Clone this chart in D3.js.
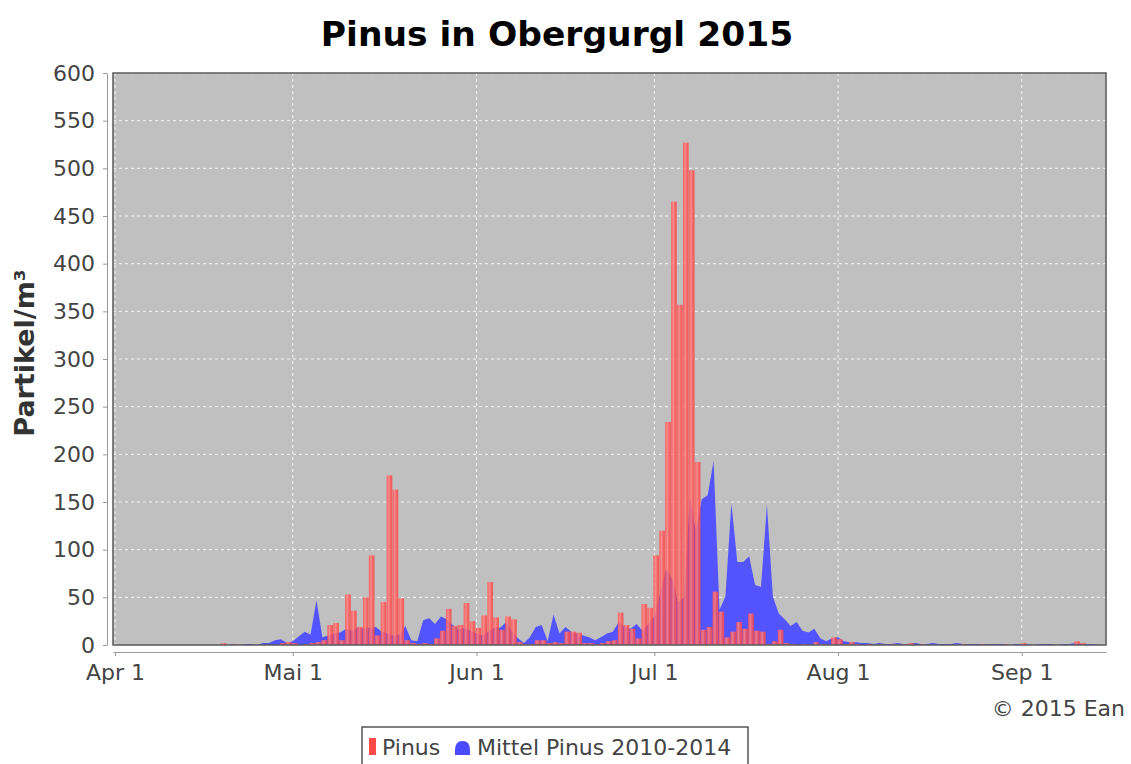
<!DOCTYPE html>
<html lang="de">
<head>
<meta charset="UTF-8">
<script src="https://cdn.jsdelivr.net/npm/d3@7"></script>
<style>
  body { margin: 0; background: #fff; }
  svg text { font-family: "DejaVu Sans", sans-serif; }
</style>
</head>
<body>
<script>
// Tageswerte ab 1. April 2015 (Index 0 = Apr 1)
var startDate = new Date(Date.UTC(2015, 3, 1));

// Pinus 2015, Partikel/m3
var pinus = [
  0, 0, 0, 0, 0, 0, 0, 0, 0, 0,
  0, 0, 0, 0, 0, 0, 0, 0, 2, 0,
  1, 0, 0, 0, 0, 0, 0, 0, 2, 3,
  2, 0, 1, 2, 3, 5, 21, 23, 5, 53,
  36, 19, 50, 94, 10, 45, 178, 163, 49, 5,
  2, 1, 2, 1, 7, 15, 38, 20, 21, 44,
  25, 18, 31, 66, 29, 16, 30, 27, 3, 1,
  1, 5, 5, 2, 3, 2, 14, 14, 13, 2,
  2, 1, 2, 4, 5, 34, 21, 17, 7, 43,
  39, 94, 120, 234, 465, 357, 527, 498, 192, 16,
  19, 56, 35, 8, 14, 24, 17, 33, 15, 14,
  1, 4, 16, 2, 1, 0, 1, 0, 3, 1,
  0, 8, 6, 1, 3, 1, 0, 1, 0, 1,
  0, 1, 0, 1, 2, 0, 1, 0, 0, 0,
  0, 0, 0, 1, 0, 0, 1, 0, 0, 0,
  1, 0, 0, 2, 0, 0, 0, 0, 0, 0,
  0, 0, 4, 2, 0, 0, 0, 0
];

// Mittel Pinus 2010-2014
var mittel = [
  0, 0, 0, 0, 0, 0, 0, 0, 0, 0,
  0, 0, 0, 0, 0, 0, 0, 0, 0, 0,
  1, 0, 1, 1, 0, 2, 2, 5, 6, 2,
  4, 9, 14, 11, 47, 8, 10, 12, 13, 17,
  15, 19, 17, 18, 19, 14, 12, 10, 11, 20,
  5, 4, 26, 28, 22, 30, 27, 21, 16, 18,
  15, 12, 10, 14, 18, 18, 24, 14, 7, 2,
  8, 19, 21, 4, 32, 12, 19, 14, 12, 10,
  8, 5, 8, 12, 14, 24, 19, 17, 22, 15,
  22, 30, 55, 80, 70, 45, 50, 155, 120, 153,
  157, 193, 37, 51, 149, 87, 87, 93, 63, 61,
  147, 51, 33, 27, 20, 24, 15, 13, 17, 7,
  4, 7, 8, 4, 3, 3, 2, 2, 1, 2,
  1, 1, 2, 1, 1, 2, 1, 1, 2, 1,
  1, 1, 2, 1, 1, 1, 1, 1, 1, 1,
  1, 0, 1, 1, 1, 0, 1, 1, 1, 0,
  1, 1, 2, 1, 1, 1, 0, 0
];

var yTicks = [0, 50, 100, 150, 200, 250, 300, 350, 400, 450, 500, 550, 600];
var xTickDates = ["2015-04-01", "2015-05-01", "2015-06-01", "2015-07-01", "2015-08-01", "2015-09-01"];
var xTickLabels = ["Apr 1", "Mai 1", "Jun 1", "Jul 1", "Aug 1", "Sep 1"];

var width = 1131, height = 764;
var plot = { left: 113, right: 1106, top: 73, bottom: 645 };

var svg = d3.select("body").append("svg")
    .attr("width", width)
    .attr("height", height);

var x = d3.scaleUtc()
    .domain([d3.utcHour.offset(startDate, -8), d3.utcHour.offset(startDate, 167 * 24 + 5)])
    .range([plot.left, plot.right]);

var y = d3.scaleLinear()
    .domain([0, 600])
    .range([plot.bottom, plot.top]);

var tickDates = xTickDates.map(function(s) { return new Date(s + "T00:00:00Z"); });

function dayDate(i) { return d3.utcDay.offset(startDate, i); }

// gradient for bars (JFreeChart style)
var defs = svg.append("defs");
var grad = defs.append("linearGradient").attr("id", "barGrad")
    .attr("x1", "0").attr("x2", "1").attr("y1", "0").attr("y2", "0");
grad.append("stop").attr("offset", "0%").attr("stop-color", "#ff5050");
grad.append("stop").attr("offset", "40%").attr("stop-color", "#ff8282");
grad.append("stop").attr("offset", "70%").attr("stop-color", "#ff5252");
grad.append("stop").attr("offset", "100%").attr("stop-color", "#f44a4a");

defs.append("clipPath").attr("id", "plotClip")
  .append("rect")
    .attr("x", plot.left).attr("y", plot.top)
    .attr("width", plot.right - plot.left).attr("height", plot.bottom - plot.top);

// plot background
svg.append("rect")
    .attr("x", plot.left).attr("y", plot.top)
    .attr("width", plot.right - plot.left).attr("height", plot.bottom - plot.top)
    .attr("fill", "#c0c0c0");

// grid lines
var grid = svg.append("g").attr("clip-path", "url(#plotClip)");
grid.selectAll(".hgrid").data(yTicks.slice(1)).enter().append("line")
    .attr("x1", plot.left).attr("x2", plot.right)
    .attr("y1", function(d) { return y(d); }).attr("y2", function(d) { return y(d); })
    .attr("stroke", "#f4f4f4").attr("stroke-width", 1).attr("stroke-dasharray", "3,3");
grid.selectAll(".vgrid").data(tickDates).enter().append("line")
    .attr("x1", function(d) { return x(d); }).attr("x2", function(d) { return x(d); })
    .attr("y1", plot.top).attr("y2", plot.bottom)
    .attr("stroke", "#f4f4f4").attr("stroke-width", 1).attr("stroke-dasharray", "3,3");

var marks = svg.append("g").attr("clip-path", "url(#plotClip)");

// area: Mittel 2010-2014
var area = d3.area()
    .x(function(d, i) { return x(dayDate(i)); })
    .y0(y(0))
    .y1(function(d) { return y(d); });

marks.append("path")
    .datum(mittel)
    .attr("d", area)
    .attr("fill", "#5454ff");

// bars: Pinus 2015
marks.selectAll(".bar").data(pinus).enter().append("rect")
    .attr("class", "bar")
    .attr("x", function(d, i) { return x(d3.utcHour.offset(dayDate(i), -4)); })
    .attr("width", function(d, i) {
        return x(d3.utcHour.offset(dayDate(i), 19)) - x(d3.utcHour.offset(dayDate(i), -4));
    })
    .attr("y", function(d) { return y(d); })
    .attr("height", function(d) { return y(0) - y(d); })
    .attr("fill", "url(#barGrad)")
    .attr("opacity", 0.85);

// plot outline
svg.append("rect")
    .attr("x", plot.left).attr("y", plot.top)
    .attr("width", plot.right - plot.left).attr("height", plot.bottom - plot.top)
    .attr("fill", "none").attr("stroke", "#5a5a5a").attr("stroke-width", 1.5);

// y axis
var yAxis = svg.append("g")
    .attr("transform", "translate(107,0)")
    .call(d3.axisLeft(y).tickValues(yTicks).tickSize(4).tickSizeOuter(0).tickPadding(8));
yAxis.select(".domain").attr("stroke", "#999");
yAxis.selectAll(".tick line").attr("stroke", "#999");
yAxis.selectAll("text").attr("fill", "#444").style("font-size", "22px")
    .attr("font-family", "DejaVu Sans, sans-serif");

// x axis
var xAxis = svg.append("g")
    .attr("transform", "translate(0,652)")
    .call(d3.axisBottom(x).tickValues(tickDates)
        .tickFormat(function(d, i) { return xTickLabels[i]; })
        .tickSize(4).tickSizeOuter(0).tickPadding(8));
xAxis.select(".domain").attr("stroke", "#999");
xAxis.selectAll(".tick line").attr("stroke", "#999");
xAxis.selectAll("text").attr("fill", "#444").style("font-size", "22px")
    .attr("font-family", "DejaVu Sans, sans-serif");

// title
svg.append("text")
    .attr("x", 557).attr("y", 46)
    .attr("text-anchor", "middle")
    .style("font-size", "34.5px").style("font-weight", "bold")
    .attr("fill", "#000")
    .text("Pinus in Obergurgl 2015");

// y label
svg.append("text")
    .attr("transform", "translate(34,353) rotate(-90)")
    .attr("text-anchor", "middle")
    .style("font-size", "27px").style("font-weight", "bold")
    .attr("fill", "#333")
    .text("Partikel/m³");

// copyright
svg.append("text")
    .attr("x", 1125).attr("y", 716)
    .attr("text-anchor", "end")
    .style("font-size", "22px")
    .attr("fill", "#444")
    .text("© 2015 Ean");

// legend
var legend = svg.append("g");
legend.append("rect")
    .attr("x", 362).attr("y", 727).attr("width", 386).attr("height", 50)
    .attr("fill", "#fff").attr("stroke", "#555").attr("stroke-width", 1.5);
legend.append("rect")
    .attr("x", 369).attr("y", 738).attr("width", 7).attr("height", 17)
    .attr("fill", "#ff4a4a");
legend.append("text")
    .attr("x", 382).attr("y", 755)
    .style("font-size", "22px").attr("fill", "#444")
    .text("Pinus");
legend.append("path")
    .attr("d", "M455,755 L455,750 Q455,741 462.5,741 Q470,741 470,750 L470,755 Z")
    .attr("fill", "#4a4aff");
legend.append("text")
    .attr("x", 477).attr("y", 755)
    .style("font-size", "22px").attr("fill", "#444")
    .text("Mittel Pinus 2010-2014");
</script>
</body>
</html>
